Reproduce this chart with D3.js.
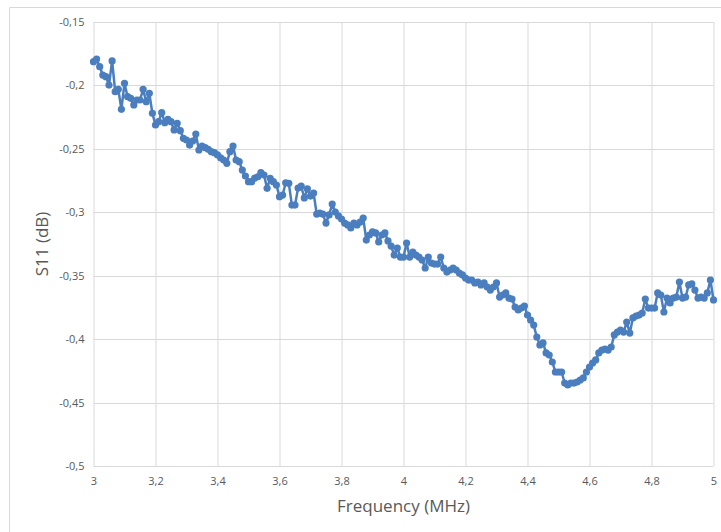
<!DOCTYPE html>
<html>
<head>
<meta charset="utf-8">
<script src="https://cdn.jsdelivr.net/npm/d3@7"></script>
<style>
  body { margin: 0; background: #fff; }
  svg { display: block; }
</style>
</head>
<body>
<div id="chart"></div>
<script>
// frequency runs 3.00 .. 5.00 MHz in 0.01 steps
const freqStart = 3;
const freqStep = 0.01;

const s11 = [
  -0.1813, -0.1792, -0.1852, -0.1918, -0.1931, -0.1997, -0.1807, -0.2049, -0.2031, -0.2188,
  -0.1983, -0.2089, -0.2102, -0.2154, -0.2115, -0.2115, -0.2031, -0.2128, -0.2062, -0.2220,
  -0.2312, -0.2286, -0.2215, -0.2294, -0.2267, -0.2286, -0.2351, -0.2299, -0.2357, -0.2417,
  -0.2430, -0.2470, -0.2438, -0.2383, -0.2509, -0.2478, -0.2491, -0.2504, -0.2522, -0.2530,
  -0.2548, -0.2570, -0.2588, -0.2614, -0.2522, -0.2478, -0.2588, -0.2601, -0.2667, -0.2714,
  -0.2759, -0.2759, -0.2730, -0.2720, -0.2688, -0.2706, -0.2811, -0.2732, -0.2759, -0.2785,
  -0.2877, -0.2864, -0.2767, -0.2772, -0.2943, -0.2943, -0.2809, -0.2793, -0.2887, -0.2816,
  -0.2872, -0.2848, -0.3014, -0.3006, -0.3014, -0.3085, -0.3021, -0.2935, -0.2998, -0.3029,
  -0.3053, -0.3085, -0.3100, -0.3124, -0.3085, -0.3100, -0.3077, -0.3045, -0.3219, -0.3179,
  -0.3155, -0.3163, -0.3234, -0.3179, -0.3163, -0.3226, -0.3266, -0.3337, -0.3282, -0.3353,
  -0.3353, -0.3242, -0.3353, -0.3313, -0.3337, -0.3353, -0.3376, -0.3439, -0.3353, -0.3400,
  -0.3408, -0.3408, -0.3353, -0.3439, -0.3471, -0.3455, -0.3439, -0.3455, -0.3479, -0.3494,
  -0.3518, -0.3534, -0.3534, -0.3557, -0.3550, -0.3573, -0.3557, -0.3589, -0.3613, -0.3589,
  -0.3557, -0.3668, -0.3652, -0.3636, -0.3676, -0.3684, -0.3747, -0.3770, -0.3755, -0.3739,
  -0.3810, -0.3849, -0.3889, -0.3983, -0.4046, -0.4030, -0.4109, -0.4125, -0.4180, -0.4259,
  -0.4259, -0.4259, -0.4346, -0.4361, -0.4346, -0.4346, -0.4338, -0.4322, -0.4306, -0.4259,
  -0.4220, -0.4188, -0.4164, -0.4109, -0.4086, -0.4078, -0.4086, -0.4062, -0.3967, -0.3944,
  -0.3928, -0.3944, -0.3865, -0.3952, -0.3833, -0.3818, -0.3810, -0.3794, -0.3684, -0.3755,
  -0.3755, -0.3755, -0.3636, -0.3652, -0.3786, -0.3676, -0.3715, -0.3676, -0.3668, -0.3550,
  -0.3676, -0.3668, -0.3573, -0.3565, -0.3613, -0.3676, -0.3668, -0.3676, -0.3636, -0.3534,
  -0.3691
];

const xTicks = [3, 3.2, 3.4, 3.6, 3.8, 4, 4.2, 4.4, 4.6, 4.8, 5];
const yTicks = [-0.5, -0.45, -0.4, -0.35, -0.3, -0.25, -0.2, -0.15];

const data = s11.map((v, i) => ({ f: freqStart + i * freqStep, v: v }));

const width = 721, height = 532;
const margin = { top: 22, right: 7.5, bottom: 66, left: 93.5 };
const innerWidth = width - margin.left - margin.right;
const innerHeight = height - margin.top - margin.bottom;

const fmt = d => String(+d.toFixed(2)).replace(".", ",");

const svg = d3.select("#chart").append("svg")
              .attr("width", width)
              .attr("height", height);

// chart frame (only left and top edges fall inside the picture)
svg.append("path")
   .attr("d", `M9.5,${height} V7.5 H${width}`)
   .attr("fill", "none")
   .attr("stroke", "#d9d9d9");

const g = svg.append("g")
             .attr("transform", `translate(${margin.left},${margin.top})`);

const x = d3.scaleLinear()
            .domain([3, 5])
            .range([0, innerWidth]);

const y = d3.scaleLinear()
            .domain([-0.5, -0.15])
            .range([innerHeight, 0]);

// grid
g.append("g")
 .selectAll("line")
 .data(xTicks)
 .enter().append("line")
 .attr("x1", d => Math.round(x(d)) + 0.5)
 .attr("x2", d => Math.round(x(d)) + 0.5)
 .attr("y1", 0)
 .attr("y2", innerHeight)
 .attr("stroke", "#d9d9d9")
 .attr("stroke-width", 1);

g.append("g")
 .selectAll("line")
 .data(yTicks)
 .enter().append("line")
 .attr("x1", 0)
 .attr("x2", innerWidth)
 .attr("y1", d => Math.round(y(d)) + 0.5)
 .attr("y2", d => Math.round(y(d)) + 0.5)
 .attr("stroke", "#d9d9d9")
 .attr("stroke-width", 1);

// tick labels
const xAxis = g.append("g")
               .attr("transform", `translate(0,${innerHeight})`)
               .call(d3.axisBottom(x).tickValues(xTicks).tickFormat(fmt).tickSize(0).tickPadding(11));

const yAxis = g.append("g")
               .call(d3.axisLeft(y).tickValues(yTicks).tickFormat(fmt).tickSize(0).tickPadding(9));

[xAxis, yAxis].forEach(a => {
  a.select(".domain").remove();
  a.selectAll("text")
   .style("font-family", "'Open Sans', sans-serif")
   .style("font-size", "11px")
   .attr("fill", "#595959");
});

// series
const line = d3.line()
               .x(d => x(d.f))
               .y(d => y(d.v));

g.append("path")
 .datum(data)
 .attr("fill", "none")
 .attr("stroke", "#4a7ebf")
 .attr("stroke-width", 2.5)
 .attr("stroke-linejoin", "round")
 .attr("d", line);

g.selectAll("circle")
 .data(data)
 .enter().append("circle")
 .attr("cx", d => x(d.f))
 .attr("cy", d => y(d.v))
 .attr("r", 3.6)
 .attr("fill", "#4a7ebf");

// axis titles
svg.append("text")
   .attr("x", margin.left + innerWidth / 2)
   .attr("y", 512)
   .attr("text-anchor", "middle")
   .style("font-family", "'Open Sans', sans-serif")
   .style("font-size", "17px")
   .attr("fill", "#595959")
   .text("Frequency (MHz)");

svg.append("text")
   .attr("transform", `translate(48,${margin.top + innerHeight / 2}) rotate(-90)`)
   .attr("text-anchor", "middle")
   .style("font-family", "'Open Sans', sans-serif")
   .style("font-size", "17px")
   .attr("fill", "#595959")
   .text("S11 (dB)");
</script>
</body>
</html>
